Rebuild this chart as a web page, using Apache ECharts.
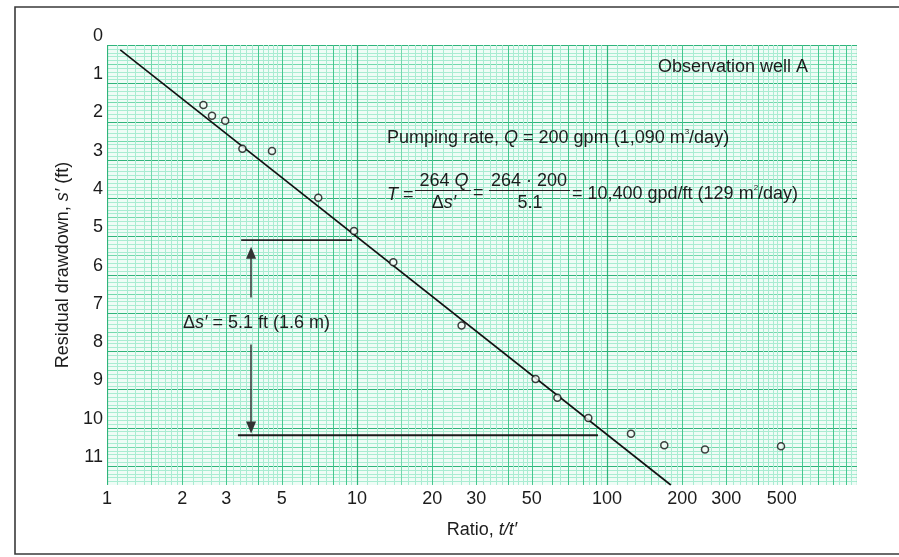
<!DOCTYPE html>
<html><head><meta charset="utf-8">
<script src="https://cdn.jsdelivr.net/npm/echarts@6/dist/echarts.min.js"></script>
<style>html,body{margin:0;padding:0;background:#fff}#c{width:899px;height:557px}</style>
</head><body><div id="c"></div>
<script>
// ---- data ----
const xTickLabels = [1, 2, 3, 5, 10, 20, 30, 50, 100, 200, 300, 500];
const yTickLabels = [0, 1, 2, 3, 4, 5, 6, 7, 8, 9, 10, 11];
const ratio    = [2.43, 2.63, 2.97, 3.48, 4.57, 7.0, 9.73, 13.97, 26.2, 51.8, 63.3, 84.2, 124.7, 169.5, 246.6, 496.6];
const drawdown = [1.57, 1.85, 1.98, 2.71, 2.77, 3.99, 4.86, 5.68, 7.33, 8.73, 9.22, 9.75, 10.16, 10.46, 10.57, 10.49];
const fitLine  = [[1.13, 0.13], [180, 11.5]];
const upperRef = [[3.44, 5.1], [9.55, 5.1]];
const lowerRef = [[3.34, 10.2], [92, 10.2]];
const arrowX = 3.77;
const arrowUp = [6.6, 5.43];   // from, to (drawdown)
const arrowDown = [7.83, 10.0];
const xMin = 1, xMax = 1000, yMin = 0, yMax = 11.5;

// ---- graph-paper lines (decoration) ----
const vLines = [];
for (const d of [1, 10, 100]) {
  const add = (m, lvl) => vLines.push([+(m * d).toPrecision(6), 0, lvl]);
  for (let i = 0; i < 10; i++) add(1 + i * 0.1, i === 0 ? 3 : (i === 5 ? 1 : 0));
  for (let i = 0; i < 15; i++) { const m = 2 + i * 0.2; add(m, Math.abs(m - Math.round(m)) < 1e-6 ? 2 : 0); }
  for (let i = 0; i < 10; i++) { const m = 5 + i * 0.5; add(m, Math.abs(m - Math.round(m)) < 1e-6 ? 2 : 0); }
}
vLines.push([1000, 0, 3]);
const hLines = [];
for (let i = 0; i <= 115; i++) hLines.push([1, i / 10, i % 10 === 0 ? 3 : (i % 5 === 0 ? 1 : 0)]);

const lineColors = ['#a9ecd2', '#74d9ad', '#45c78f', '#2fb47b'];
const lineWidths = [1, 1, 1, 1.2];

function gridRender(isV) {
  return function (params, api) {
    const a = api.value(0), b = api.value(1), lvl = api.value(2);
    let p1, p2;
    if (isV) { p1 = api.coord([a, yMin]); p2 = api.coord([a, yMax]); }
    else { p1 = api.coord([xMin, b]); p2 = api.coord([xMax, b]); }
    const r = v => Math.round(v) + 0.5;
    return {
      type: 'line',
      shape: isV ? { x1: r(p1[0]), y1: p1[1], x2: r(p2[0]), y2: p2[1] }
                 : { x1: p1[0], y1: r(p1[1]), x2: p2[0], y2: r(p2[1]) },
      style: { stroke: lineColors[lvl], lineWidth: lineWidths[lvl] }
    };
  };
}

const FONT = '"Liberation Sans", Arial, Helvetica, sans-serif';
const TXT = '#1c1c1c';
const richBase = {
  i: { fontStyle: 'italic', fontSize: 18, fontFamily: FONT, fill: TXT, color: TXT },
  sup: { fontSize: 8, fontFamily: FONT, verticalAlign: 'top', fill: TXT, color: TXT, lineHeight: 20 }
};

const chart = echarts.init(document.getElementById('c'), null, { renderer: 'canvas' });
const option = {
  backgroundColor: '#ffffff',
  animation: false,
  grid: { left: 107, right: 42, top: 45, bottom: 72, show: true, backgroundColor: '#effcf6', borderWidth: 0 },
  xAxis: {
    type: 'log', logBase: 10, min: xMin, max: xMax,
    name: 'Ratio, {i|t/t′}', nameLocation: 'middle', nameGap: 36,
    nameTextStyle: { fontSize: 18, fontFamily: FONT, color: TXT, rich: richBase },
    axisLine: { show: false }, axisTick: { show: false }, splitLine: { show: false },
    axisLabel: { customValues: xTickLabels, fontSize: 18, fontFamily: FONT, color: TXT, margin: 5, hideOverlap: false }
  },
  yAxis: {
    type: 'value', inverse: true, min: yMin, max: yMax, interval: 1,
    name: 'Residual drawdown, {i|s′} (ft)', nameLocation: 'middle', nameGap: 34, nameRotate: 90,
    nameTextStyle: { fontSize: 18, fontFamily: FONT, color: TXT, rich: richBase },
    axisLine: { show: false }, axisTick: { show: false }, splitLine: { show: false },
    axisLabel: { customValues: yTickLabels, fontSize: 18, fontFamily: FONT, color: TXT, margin: 4, verticalAlign: 'bottom' }
  },
  series: [
    { type: 'custom', silent: true, z: 1, data: hLines, encode: { x: 0, y: 1 }, renderItem: gridRender(false), clip: true },
    { type: 'custom', silent: true, z: 1, data: vLines, encode: { x: 0, y: 1 }, renderItem: gridRender(true), clip: true },
    { type: 'line', data: fitLine, symbol: 'none', z: 5, lineStyle: { color: '#111', width: 1.6 } },
    { type: 'line', data: upperRef, symbol: 'none', z: 5, lineStyle: { color: '#222', width: 1.6 } },
    { type: 'line', data: lowerRef, symbol: 'none', z: 5, lineStyle: { color: '#1a1a1a', width: 2.2 } },
    {
      type: 'scatter', z: 6, data: ratio.map((r, i) => [r, drawdown[i]]),
      symbol: 'circle', symbolSize: 7,
      itemStyle: { color: '#f4fbf7', borderColor: '#111', borderWidth: 1.5 }
    },
    {
      type: 'line', data: [], z: 5,
      markLine: {
        silent: true, symbol: ['none', 'triangle'], symbolSize: [10, 12],
        label: { show: false },
        lineStyle: { color: '#333', width: 1.5, type: 'solid' },
        data: [
          [{ coord: [arrowX, arrowUp[0]] }, { coord: [arrowX, arrowUp[1]] }],
          [{ coord: [arrowX, arrowDown[0]] }, { coord: [arrowX, arrowDown[1]] }]
        ]
      }
    }
  ],
  graphic: [
    { type: 'rect', z: 100, silent: true, shape: { x: 15, y: 7, width: 900, height: 547 },
      style: { fill: 'none', stroke: '#3a3a3a', lineWidth: 1.6 } },
    { type: 'text', z: 100, x: 658, y: 67, style: { text: 'Observation well A', font: '18px ' + FONT, fill: TXT, verticalAlign: 'middle' } },
    { type: 'text', z: 100, x: 387, y: 138, style: {
      text: 'Pumping rate, {i|Q} = 200 gpm (1,090 m{sup|3}/day)', font: '18px ' + FONT, fill: TXT, verticalAlign: 'middle', rich: richBase } },
    { type: 'text', z: 100, x: 387, y: 195, style: { text: '{i|T} =', font: '18px ' + FONT, fill: TXT, verticalAlign: 'middle', rich: richBase } },
    { type: 'text', z: 100, x: 444, y: 181, style: { text: '264 {i|Q}', font: '18px ' + FONT, fill: TXT, align: 'center', verticalAlign: 'middle', rich: richBase } },
    { type: 'line', z: 100, shape: { x1: 415, y1: 190.5, x2: 471, y2: 190.5 }, style: { stroke: '#222', lineWidth: 1.2 } },
    { type: 'text', z: 100, x: 444, y: 203, style: { text: 'Δ{i|s′}', font: '18px ' + FONT, fill: TXT, align: 'center', verticalAlign: 'middle', rich: richBase } },
    { type: 'text', z: 100, x: 473, y: 193, style: { text: '=', font: '18px ' + FONT, fill: TXT, verticalAlign: 'middle' } },
    { type: 'text', z: 100, x: 529, y: 181, style: { text: '264 · 200', font: '18px ' + FONT, fill: TXT, align: 'center', verticalAlign: 'middle' } },
    { type: 'line', z: 100, shape: { x1: 489, y1: 190.5, x2: 570, y2: 190.5 }, style: { stroke: '#222', lineWidth: 1.2 } },
    { type: 'text', z: 100, x: 530, y: 203, style: { text: '5.1', font: '18px ' + FONT, fill: TXT, align: 'center', verticalAlign: 'middle' } },
    { type: 'text', z: 100, x: 572, y: 194, style: {
      text: '= 10,400 gpd/ft (129 m{sup|2}/day)', font: '18px ' + FONT, fill: TXT, verticalAlign: 'middle', rich: richBase } },
    { type: 'text', z: 100, x: 183, y: 323, style: {
      text: 'Δ{i|s′} = 5.1 ft (1.6 m)', font: '18px ' + FONT, fill: TXT, verticalAlign: 'middle', rich: richBase } }
  ]
};
chart.setOption(option);
</script></body></html>
